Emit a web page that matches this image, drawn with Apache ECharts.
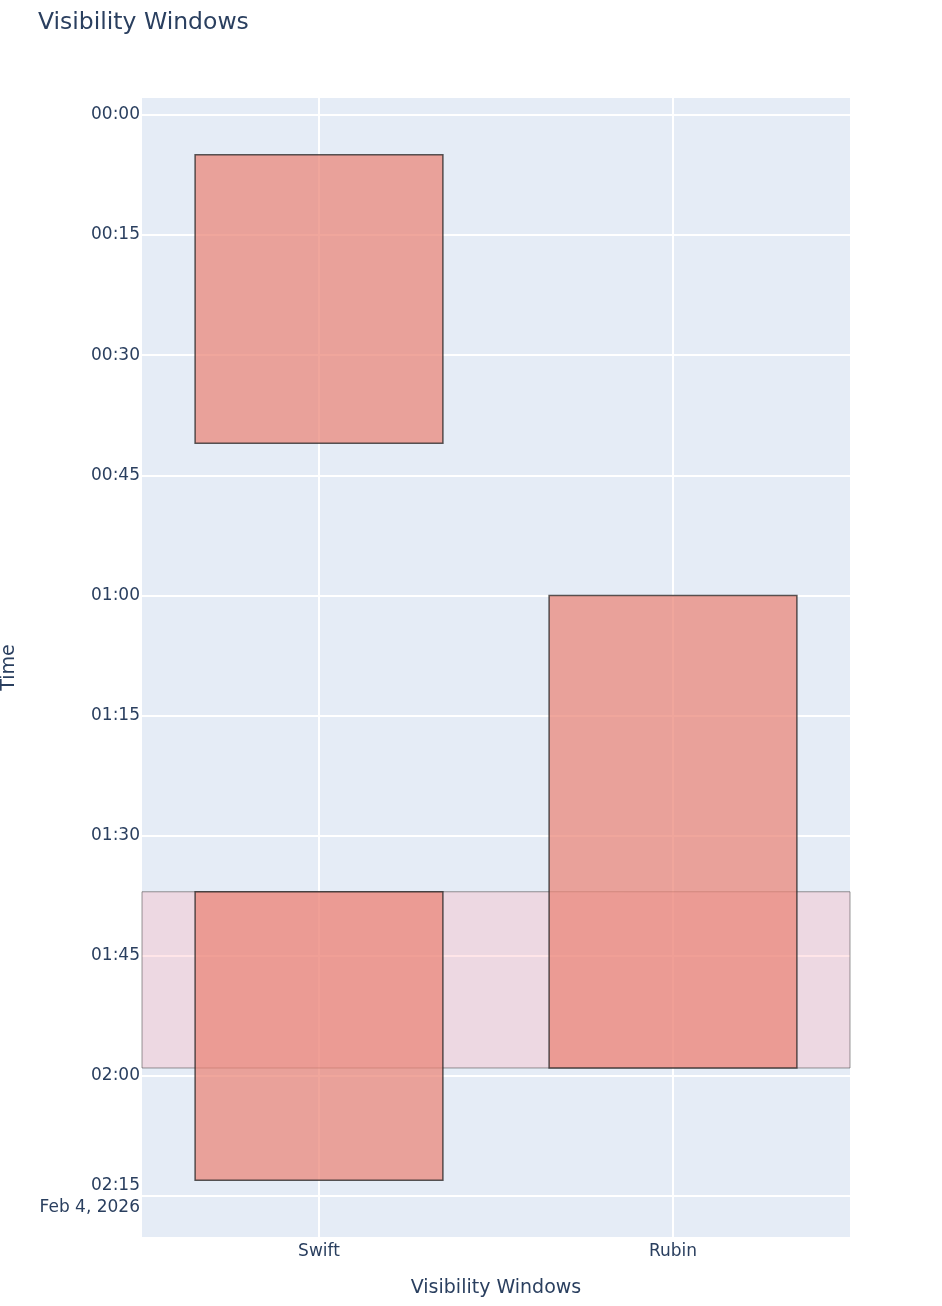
<!DOCTYPE html>
<html>
<head>
<meta charset="utf-8">
<script src="https://cdn.jsdelivr.net/npm/echarts@6/dist/echarts.min.js"></script>
<style>
html,body{margin:0;padding:0;background:#fff;}
#chart{width:942px;height:1306px;}
</style>
</head>
<body>
<div id="chart"></div>
<script>
// Data
const categories = ["Swift", "Rubin"];
const windowCategory = ["Swift", "Swift", "Rubin"];
const windowStart = ["00:05", "01:37", "01:00"];
const windowEnd = ["00:41", "02:13", "01:59"];
const overlapStart = ["01:37"];
const overlapEnd = ["01:59"];
const tickLabels = ["00:00", "00:15", "00:30", "00:45", "01:00", "01:15", "01:30", "01:45", "02:00", "02:15"];
const dateLabel = "Feb 4, 2026";

function toMin(s) { const p = s.split(":"); return (+p[0]) * 60 + (+p[1]); }
function fmt(m) {
  const h = Math.floor(m / 60), mm = Math.round(m - h * 60);
  return String(h).padStart(2, "0") + ":" + String(mm).padStart(2, "0");
}
const tickValues = tickLabels.map(toMin);
const lastTick = tickValues[tickValues.length - 1];

const barData = windowStart.map((s, i) => [categories.indexOf(windowCategory[i]), toMin(s), toMin(windowEnd[i])]);
const bandData = overlapStart.map((s, i) => [toMin(s), toMin(overlapEnd[i])]);

const FONT = "DejaVu Sans, Verdana, sans-serif";
const TXT = "#2a3f5f";

const chart = echarts.init(document.getElementById("chart"), null, { renderer: "canvas" });
chart.setOption({
  animation: false,
  backgroundColor: "#ffffff",
  title: {
    text: "Visibility Windows",
    left: 33, top: 6,
    textStyle: { fontFamily: FONT, fontSize: 23.5, fontWeight: "normal", color: TXT }
  },
  grid: {
    left: 142, right: 92, top: 98, bottom: 69,
    outerBoundsMode: "none",
    containLabel: false,
    show: true, backgroundColor: "#E5ECF6", borderWidth: 0
  },
  xAxis: {
    type: "value",
    min: -0.5, max: 1.5,
    name: "Visibility Windows",
    nameLocation: "middle",
    nameGap: 42,
    nameTextStyle: { fontFamily: FONT, fontSize: 19, color: TXT },
    axisLine: { show: false },
    axisTick: { show: false, customValues: categories.map((c, i) => i) },
    axisLabel: {
      customValues: categories.map((c, i) => i),
      formatter: v => categories[Math.round(v)] || "",
      fontFamily: FONT, fontSize: 17, color: TXT, margin: 6
    },
    splitLine: { show: true, lineStyle: { color: "#ffffff", width: 2 } }
  },
  yAxis: {
    type: "value",
    inverse: true,
    min: -2.1, max: 140.1,
    name: "Time",
    nameLocation: "middle",
    nameGap: 123,
    nameRotate: 90,
    nameTextStyle: { fontFamily: FONT, fontSize: 19, color: TXT },
    axisLine: { show: false },
    axisTick: { show: false, customValues: tickValues },
    axisLabel: {
      customValues: tickValues,
      formatter: v => v === lastTick ? fmt(v) + "\n" + dateLabel : fmt(v),
      fontFamily: FONT, fontSize: 17, color: TXT, margin: 2, lineHeight: 22,
      padding: [3, 0, 0, 0]
    },
    splitLine: { show: true, lineStyle: { color: "#ffffff", width: 2 } }
  },
  series: [
    {
      type: "custom",
      name: "overlap",
      z: 1,
      data: bandData,
      encode: { y: [0, 1] },
      renderItem: function (params, api) {
        const p0 = api.coord([-0.5, api.value(0)]);
        const p1 = api.coord([1.5, api.value(1)]);
        return {
          type: "rect",
          shape: { x: p0[0], y: p0[1], width: p1[0] - p0[0], height: p1[1] - p0[1] },
          style: { fill: "rgba(255,175,185,0.32)", stroke: "rgba(70,70,70,0.55)", lineWidth: 1 }
        };
      }
    },
    {
      type: "custom",
      name: "windows",
      z: 2,
      data: barData,
      encode: { x: 0, y: [1, 2] },
      renderItem: function (params, api) {
        const c = api.value(0);
        const top = api.coord([c, api.value(1)]);
        const bot = api.coord([c, api.value(2)]);
        const w = api.size([0.7, 0])[0];
        return {
          type: "rect",
          shape: { x: top[0] - w / 2, y: top[1], width: w, height: bot[1] - top[1] },
          style: { fill: "rgba(234,132,118,0.72)", stroke: "rgba(35,35,35,0.75)", lineWidth: 1.5 }
        };
      }
    }
  ]
});
</script>
</body>
</html>
